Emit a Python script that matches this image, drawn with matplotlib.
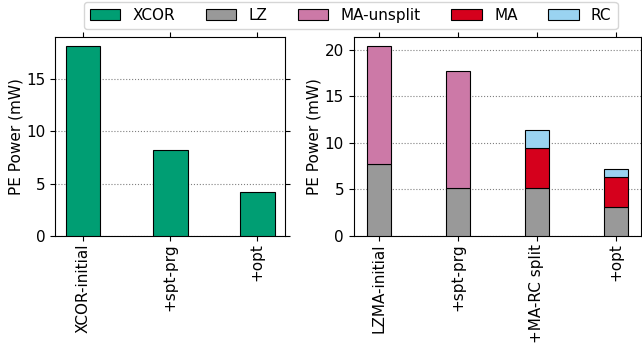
import matplotlib
matplotlib.use('Agg')
import matplotlib.pyplot as plt
import numpy as np

# left panel
xcor_labels = ['XCOR-initial', '+spt-prg', '+opt']
xcor_power = [18.1, 8.25, 4.2]

# right panel (stacked)
lzma_labels = ['LZMA-initial', '+spt-prg', '+MA-RC split', '+opt']
lz_power = [7.7, 5.1, 5.1, 3.1]
ma_unsplit_power = [12.65, 12.6, 0.0, 0.0]
ma_power = [0.0, 0.0, 4.3, 3.2]
rc_power = [0.0, 0.0, 2.0, 0.9]

colors = {'XCOR': '#009E73', 'LZ': '#999999', 'MA-unsplit': '#CC79A7',
          'MA': '#D5001C', 'RC': '#9AD3F1'}

plt.rcParams['font.size'] = 11

fig = plt.figure(figsize=(6.42, 3.45), dpi=100)
ax1 = fig.add_axes([0.086, 0.316, 0.358, 0.577])
ax2 = fig.add_axes([0.551, 0.316, 0.447, 0.577])

x1 = np.arange(len(xcor_labels))
ax1.bar(x1, xcor_power, 0.4, color=colors['XCOR'], edgecolor='black', linewidth=0.8, zorder=3)
ax1.set_xticks(x1)
ax1.set_xticklabels(xcor_labels, rotation=90)
ax1.set_yticks([0, 5, 10, 15])
ax1.set_ylabel('PE Power (mW)', labelpad=2)

x2 = np.arange(len(lzma_labels))
bottom = np.zeros(len(lzma_labels))
for name, vals in [('LZ', lz_power), ('MA-unsplit', ma_unsplit_power),
                   ('MA', ma_power), ('RC', rc_power)]:
    vals = np.array(vals)
    mask = vals > 0
    ax2.bar(x2[mask], vals[mask], 0.3, bottom=bottom[mask], color=colors[name],
            edgecolor='black', linewidth=0.8, zorder=3)
    bottom = bottom + vals
ax2.set_xticks(x2)
ax2.set_xticklabels(lzma_labels, rotation=90)
ax2.set_yticks([0, 5, 10, 15, 20])
ax2.set_ylabel('PE Power (mW)', labelpad=2)

for ax in (ax1, ax2):
    ax.grid(axis='y', linestyle=':', color='gray', linewidth=0.8, zorder=0)
    ax.tick_params(top=True, right=True, labeltop=False, labelright=False)
    ax.tick_params(axis='x', pad=2)

handles = [plt.Rectangle((0, 0), 1, 1, facecolor=colors[k], edgecolor='black', linewidth=0.8)
           for k in colors]
fig.legend(handles, list(colors.keys()), loc='upper center', ncol=5,
           bbox_to_anchor=(0.546, 1.0), fontsize=11, borderaxespad=0.1)

fig.savefig('out.png', dpi=100)
